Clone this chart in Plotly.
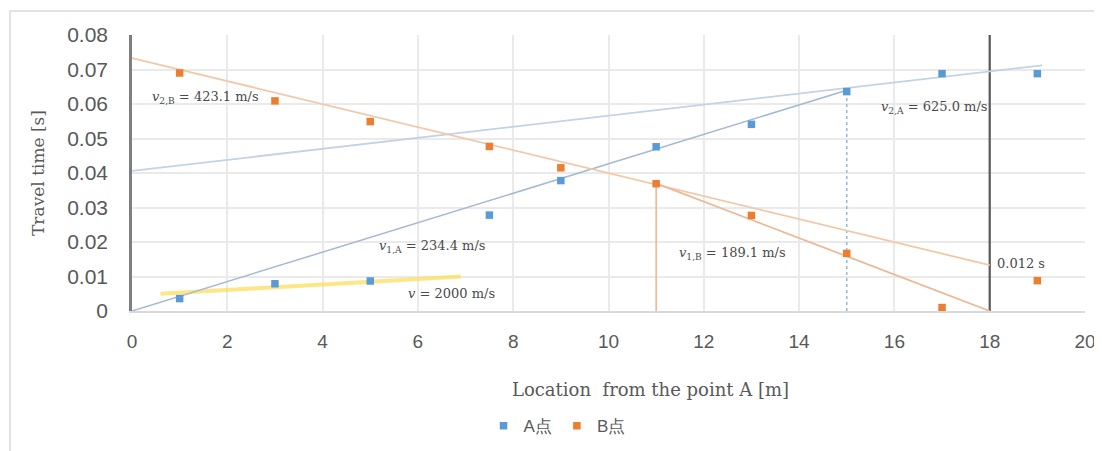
import plotly.graph_objects as go

# ---- data ----
location = [1, 3, 5, 7.5, 9, 11, 13, 15, 17, 19]
time_A = [0.0036, 0.0079, 0.0087, 0.0278, 0.0378, 0.0476, 0.0541, 0.0636, 0.0688, 0.0688]
time_B = [0.0690, 0.0609, 0.0549, 0.0477, 0.0415, 0.0369, 0.0277, 0.0167, 0.0010, 0.0088]

# fitted travel-time lines (x, y end points)
line_A1_x = [0, 15]
line_A1_y = [0.0, 0.0640]
line_A2_x = [0, 19.1]
line_A2_y = [0.0406, 0.0712]
line_B1_x = [0, 18]
line_B1_y = [0.0733, 0.0133]
line_B2_x = [11, 18]
line_B2_y = [0.0370, 0.0]
line_direct_x = [0.6, 6.9]
line_direct_y = [0.0050, 0.0100]

# vertical guide lines
guide_B_x = 11
guide_B_top = 0.0370
guide_A_x = 15
guide_A_top = 0.0640
end_x = 18

labels = [
    ("<i>v</i><sub>2,B</sub> = 423.1 m/s", 1.55, 0.0620),
    ("<i>v</i><sub>2,A</sub> = 625.0 m/s", 16.85, 0.0591),
    ("<i>v</i><sub>1,A</sub> = 234.4 m/s", 6.3, 0.0186),
    ("<i>v</i><sub>1,B</sub> = 189.1 m/s", 12.6, 0.0168),
    ("<i>v</i> = 2000 m/s", 6.7, 0.0052),
    ("0.012 s", 18.65, 0.0139),
]

x_title = "Location  from the point A [m]"
y_title = "Travel time [s]"
x_ticks = list(range(0, 21, 2))
y_ticks = [0, 0.01, 0.02, 0.03, 0.04, 0.05, 0.06, 0.07, 0.08]
y_tick_text = ["0", "0.01", "0.02", "0.03", "0.04", "0.05", "0.06", "0.07", "0.08"]

BLUE = "#5B9BD5"
ORANGE = "#ED7D31"

fig = go.Figure()

# direct-wave line (yellow, thick)
fig.add_trace(go.Scatter(x=line_direct_x, y=line_direct_y, mode="lines",
                         line=dict(color="rgba(255,220,80,0.7)", width=4),
                         showlegend=False, hoverinfo="skip"))
# guides
fig.add_trace(go.Scatter(x=[guide_B_x, guide_B_x], y=[0, guide_B_top], mode="lines",
                         line=dict(color="#F4B183", width=1.5),
                         showlegend=False, hoverinfo="skip"))
fig.add_trace(go.Scatter(x=[guide_A_x, guide_A_x], y=[0, guide_A_top], mode="lines",
                         line=dict(color="#8DB9E3", width=1.5, dash="dot"),
                         showlegend=False, hoverinfo="skip"))
fig.add_trace(go.Scatter(x=[end_x, end_x], y=[0, 0.08], mode="lines",
                         line=dict(color="#595959", width=2.2),
                         showlegend=False, hoverinfo="skip"))
# fitted lines
fig.add_trace(go.Scatter(x=line_A1_x, y=line_A1_y, mode="lines",
                         line=dict(color="#A3BAD3", width=1.5),
                         showlegend=False, hoverinfo="skip"))
fig.add_trace(go.Scatter(x=line_A2_x, y=line_A2_y, mode="lines",
                         line=dict(color="#C2D3E5", width=1.8),
                         showlegend=False, hoverinfo="skip"))
fig.add_trace(go.Scatter(x=line_B1_x, y=line_B1_y, mode="lines",
                         line=dict(color="#F2C8A8", width=1.8),
                         showlegend=False, hoverinfo="skip"))
fig.add_trace(go.Scatter(x=line_B2_x, y=line_B2_y, mode="lines",
                         line=dict(color="#EBB995", width=1.8),
                         showlegend=False, hoverinfo="skip"))
# data
fig.add_trace(go.Scatter(x=location, y=time_A, mode="markers", name="A点",
                         marker=dict(color=BLUE, size=7.5, symbol="square")))
fig.add_trace(go.Scatter(x=location, y=time_B, mode="markers", name="B点",
                         marker=dict(color=ORANGE, size=7.5, symbol="square")))

for txt, x, y in labels:
    fig.add_annotation(x=x, y=y, text=txt, showarrow=False,
                       font=dict(family="DejaVu Serif", size=13, color="#4A4A4A"),
                       xanchor="center", yanchor="middle")

# x-axis title (placed right of centre, as in the original)
fig.add_annotation(xref="paper", yref="paper", x=0.5436, y=-0.286, text=x_title,
                   showarrow=False, xanchor="center", yanchor="middle",
                   font=dict(family="DejaVu Serif", size=18, color="#595959"))

# outer chart border (top and left visible)
fig.add_shape(type="rect", xref="paper", yref="paper",
              x0=-0.128, x1=1.05, y0=-0.6, y1=1.087,
              line=dict(color="#E3E3E3", width=2), layer="below")

fig.update_layout(
    width=1102, height=451,
    margin=dict(l=124, r=25, t=27, b=148, autoexpand=False),
    paper_bgcolor="white", plot_bgcolor="white",
    font=dict(family="Liberation Sans", color="#595959"),
    showlegend=True,
    legend=dict(orientation="h", x=0.446, xanchor="center", y=-0.352, yanchor="top",
                font=dict(family="Liberation Sans", size=17, color="#595959"),
                itemwidth=30, tracegroupgap=0),
)
fig.update_xaxes(range=[0, 20], tickvals=x_ticks, showgrid=True, gridcolor="#EAEAEA",
                 gridwidth=1.5, zeroline=False, showline=True, linecolor="#D9D9D9",
                 linewidth=1.5, tickfont=dict(size=19, color="#595959"),
                 ticks="", ticklabelstandoff=12, automargin=False)
fig.update_yaxes(range=[0, 0.08], tickvals=y_ticks, ticktext=y_tick_text, showgrid=True,
                 gridcolor="#EAEAEA", gridwidth=1.5, zeroline=False, showline=True,
                 linecolor="#7F7F7F", linewidth=2.5, automargin=False,
                 tickfont=dict(size=21, color="#595959"), ticks="", ticklabelstandoff=17,
                 title=dict(text=y_title,
                            font=dict(family="DejaVu Serif", size=17, color="#595959"),
                            standoff=19))

fig.write_html("out.html")
